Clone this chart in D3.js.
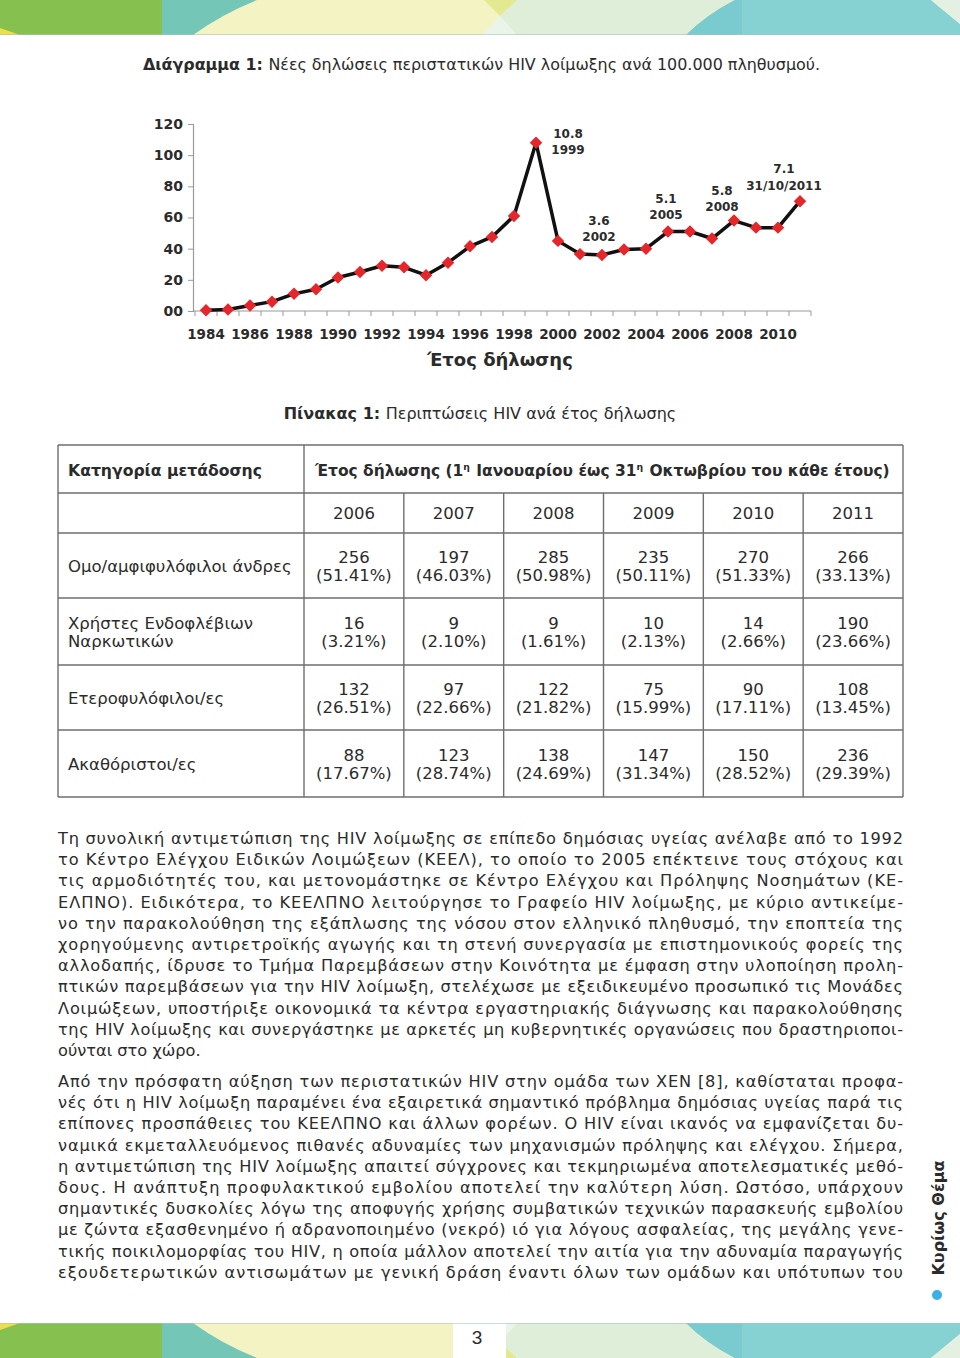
<!DOCTYPE html>
<html>
<head>
<meta charset="utf-8">
<script src="https://cdn.jsdelivr.net/npm/d3@7"></script>
<style>
  body { margin: 0; background: #fff; }
  svg { display: block; }
  text { font-family: "DejaVu Sans", Verdana, sans-serif; fill: #2b2b2b; }
</style>
</head>
<body>
<div class="page"></div>
<script>
// ---- chart data: new HIV reports, rate per 1.000.000 (axis of the figure) ----
const years = d3.range(1984, 2012)
const rates = [0.5, 1, 3.5, 6, 11, 14, 21.5, 25, 29, 28, 23, 31, 41.5, 47.5,
  61, 108, 45, 36.5, 36, 39.5, 40, 51, 51, 46.5, 58, 53.5, 53.5, 70.5]
const yTicks = [0, 20, 40, 60, 80, 100, 120]
const xTickYears = d3.range(1984, 2011, 2)
const notes = [
  { year: 1999, value: "10.8", label: "1999" },
  { year: 2002, value: "3.6", label: "2002" },
  { year: 2005, value: "5.1", label: "2005" },
  { year: 2008, value: "5.8", label: "2008" },
  { year: 2011, value: "7.1", label: "31/10/2011" }
]
// label offsets from their point (px)
const noteOffset = { 1999: [32, -5], 2002: [-3, -30], 2005: [-2, -29], 2008: [-12, -26], 2011: [-16, -28] }

// ---- table data ----
const tableYears = ["2006", "2007", "2008", "2009", "2010", "2011"]
const categories = [["Ομο/αμφιφυλόφιλοι άνδρες"], ["Χρήστες Ενδοφλέβιων", "Ναρκωτικών"],
  ["Ετεροφυλόφιλοι/ες"], ["Ακαθόριστοι/ες"]]
const counts = [
  [256, 197, 285, 235, 270, 266],
  [16, 9, 9, 10, 14, 190],
  [132, 97, 122, 75, 90, 108],
  [88, 123, 138, 147, 150, 236]
]
const shares = [
  ["51.41", "46.03", "50.98", "50.11", "51.33", "33.13"],
  ["3.21", "2.10", "1.61", "2.13", "2.66", "23.66"],
  ["26.51", "22.66", "21.82", "15.99", "17.11", "13.45"],
  ["17.67", "28.74", "24.69", "31.34", "28.52", "29.39"]
]
const headParts = [
  { t: "Έτος δήλωσης (1" }, { t: "η", sup: true }, { t: " Ιανουαρίου έως 31" },
  { t: "η", sup: true }, { t: " Οκτωβρίου του κάθε έτους)" }
]

// ---- body text (one entry per printed line) ----
const para1 = [
  "Τη συνολική αντιμετώπιση της HIV λοίμωξης σε επίπεδο δημόσιας υγείας ανέλαβε από το 1992",
  "το Κέντρο Ελέγχου Ειδικών Λοιμώξεων (ΚΕΕΛ), το οποίο το 2005 επέκτεινε τους στόχους και",
  "τις αρμοδιότητές του, και μετονομάστηκε σε Κέντρο Ελέγχου και Πρόληψης Νοσημάτων (ΚΕ-",
  "ΕΛΠΝΟ). Ειδικότερα, το ΚΕΕΛΠΝΟ λειτούργησε το Γραφείο HIV λοίμωξης, με κύριο αντικείμε-",
  "νο την παρακολούθηση της εξάπλωσης της νόσου στον ελληνικό πληθυσμό, την εποπτεία της",
  "χορηγούμενης αντιρετροϊκής αγωγής και τη στενή συνεργασία με επιστημονικούς φορείς της",
  "αλλοδαπής, ίδρυσε το Τμήμα Παρεμβάσεων στην Κοινότητα με έμφαση στην υλοποίηση προλη-",
  "πτικών παρεμβάσεων για την HIV λοίμωξη, στελέχωσε με εξειδικευμένο προσωπικό τις Μονάδες",
  "Λοιμώξεων, υποστήριξε οικονομικά τα κέντρα εργαστηριακής διάγνωσης και παρακολούθησης",
  "της HIV λοίμωξης και συνεργάστηκε με αρκετές μη κυβερνητικές οργανώσεις που δραστηριοποι-",
  "ούνται στο χώρο."
]
const para2 = [
  "Από την πρόσφατη αύξηση των περιστατικών HIV στην ομάδα των ΧΕΝ [8], καθίσταται προφα-",
  "νές ότι η HIV λοίμωξη παραμένει ένα εξαιρετικά σημαντικό πρόβλημα δημόσιας υγείας παρά τις",
  "επίπονες προσπάθειες του ΚΕΕΛΠΝΟ και άλλων φορέων. Ο HIV είναι ικανός να εμφανίζεται δυ-",
  "ναμικά εκμεταλλευόμενος πιθανές αδυναμίες των μηχανισμών πρόληψης και ελέγχου. Σήμερα,",
  "η αντιμετώπιση της HIV λοίμωξης απαιτεί σύγχρονες και τεκμηριωμένα αποτελεσματικές μεθό-",
  "δους. Η ανάπτυξη προφυλακτικού εμβολίου αποτελεί την καλύτερη λύση. Ωστόσο, υπάρχουν",
  "σημαντικές δυσκολίες λόγω της αποφυγής χρήσης συμβατικών τεχνικών παρασκευής εμβολίου",
  "με ζώντα εξασθενημένο ή αδρανοποιημένο (νεκρό) ιό για λόγους ασφαλείας, της μεγάλης γενε-",
  "τικής ποικιλομορφίας του HIV, η οποία μάλλον αποτελεί την αιτία για την αδυναμία παραγωγής",
  "εξουδετερωτικών αντισωμάτων με γενική δράση έναντι όλων των ομάδων και υπότυπων του"
]

let width = 960, height = 1358
let svg = d3.select(".page").append("svg")
  .attr("width", width)
  .attr("height", height)

//decorative bands, top / bottom
function band(g, flip) {
  let h = 35
  g.append("rect").attr("width", 960).attr("height", h).attr("fill", "#f4f3c4")
  g.append("rect").attr("width", 162).attr("height", h).attr("fill", "#86c14f")
  g.append("path").attr("d", "M0,28 L20,35 L0,35 Z").attr("fill", "#ecdf4a")
  g.append("path").attr("d", "M162,0 L257,0 Q222,14 193,35 L162,35 Z").attr("fill", "#74c6b6")
  g.append("path").attr("d", "M484,0 L517,0 L500,16 Z").attr("fill", "#e4e88e")
  g.append("path").attr("d", "M517,0 L735,0 Q706,15 686,35 L517,35 L500,16 Z").attr("fill", "#dfeed8")
  g.append("path").attr("d", "M482,35 L500,16 L517,35 Z").attr("fill", "#eaf4e9")
  g.append("path").attr("d", "M735,0 L931,0 Q948,14 960,24 L960,35 L686,35 Q706,15 735,0 Z").attr("fill", "#86d1d1")
  g.append("path").attr("d", "M735,0 L742,0 L742,35 L686,35 Q706,15 735,0 Z").attr("fill", "#7acbd0")
  g.append("path").attr("d", "M931,0 L960,0 L960,24 Q948,14 931,0 Z").attr("fill", "#e4f1e2")
  if (flip) {
    g.attr("transform", `translate(0,${height}) scale(1,-1)`)
    g.append("rect").attr("x", 453).attr("width", 53).attr("height", h).attr("fill", "#fff")
  }
  g.append("rect").attr("y", h - 1).attr("width", 960).attr("height", 1).attr("fill", "#a9c4c0").attr("opacity", 0.6)
}
band(svg.append("g"), false)
band(svg.append("g"), true)

svg.append("text").attr("x", 477).attr("y", 1344)
  .attr("text-anchor", "middle")
  .style("font-family", "'Liberation Sans Narrow', 'Liberation Sans', sans-serif")
  .attr("font-size", 19).text("3")

//side label
svg.append("text")
  .attr("transform", "translate(944,1218) rotate(-90)")
  .attr("text-anchor", "middle")
  .attr("font-size", 16).attr("font-weight", "bold")
  .text("Κυρίως Θέμα")
svg.append("circle").attr("cx", 937).attr("cy", 1295).attr("r", 5).attr("fill", "#3cb0e6")

// ---- chart title ----
let title = svg.append("text").attr("x", 143).attr("y", 70)
  .attr("font-size", 16).attr("textLength", 677).attr("lengthAdjust", "spacingAndGlyphs")
title.append("tspan").attr("font-weight", "bold").text("Διάγραμμα 1: ")
title.append("tspan").text("Νέες δηλώσεις περιστατικών HIV λοίμωξης ανά 100.000 πληθυσμού.")

// ---- line chart ----
let x = d3.scaleBand().domain(years).range([195, 811]).padding(0)
let y = d3.scaleLinear().domain([0, 120]).range([311, 124])
let cx = (yr) => x(yr) + x.bandwidth() / 2

let chart = svg.append("g")
let yAxis = chart.append("g").attr("transform", "translate(193,0)")
  .call(d3.axisLeft(y).tickValues(yTicks).tickSize(5).tickPadding(5)
    .tickFormat((d) => d === 0 ? "00" : d))
yAxis.select(".domain").attr("stroke", "#9a9a9a").attr("stroke-width", 1.2)
yAxis.selectAll(".tick line").attr("stroke", "#9a9a9a")
yAxis.selectAll(".tick text").attr("font-size", 14).attr("font-weight", "bold")
  .attr("fill", "#333").style("font-family", "'DejaVu Sans', sans-serif")

let xAxis = chart.append("g").attr("transform", "translate(0,311)")
xAxis.append("line").attr("x1", 193).attr("x2", 811).attr("stroke", "#9a9a9a").attr("stroke-width", 1.2)
xAxis.selectAll(".xt").data(years.concat([2012])).enter().append("line")
  .attr("x1", (d) => d === 2012 ? x(2011) + x.bandwidth() : x(d))
  .attr("x2", (d) => d === 2012 ? x(2011) + x.bandwidth() : x(d))
  .attr("y1", 0).attr("y2", 5).attr("stroke", "#9a9a9a")
xAxis.selectAll(".xl").data(xTickYears).enter().append("text")
  .attr("x", (d) => cx(d)).attr("y", 28)
  .attr("text-anchor", "middle").attr("font-size", 13.5).attr("font-weight", "bold")
  .attr("fill", "#333").text((d) => d)
chart.append("text").attr("x", 500).attr("y", 366).attr("text-anchor", "middle")
  .attr("font-size", 18).attr("font-weight", "bold").attr("fill", "#333")
  .text("Έτος δήλωσης")

let line = d3.line().x((d, i) => cx(years[i])).y((d) => y(d))
chart.append("path").datum(rates)
  .attr("d", line).attr("fill", "none")
  .attr("stroke", "#111").attr("stroke-width", 3.5).attr("stroke-linejoin", "round")
chart.append("g").selectAll("path").data(rates).enter().append("path")
  .attr("d", d3.symbol().type(d3.symbolSquare).size(78))
  .attr("transform", (d, i) => `translate(${cx(years[i])},${y(d)}) rotate(45)`)
  .attr("fill", "#e5262b")

let noteG = chart.append("g").selectAll("text").data(notes).enter().append("text")
  .attr("text-anchor", "middle").attr("font-size", 12).attr("font-weight", "bold").attr("fill", "#333")
  .attr("x", (d) => cx(d.year) + noteOffset[d.year][0])
  .attr("y", (d) => y(rates[years.indexOf(d.year)]) + noteOffset[d.year][1])
noteG.append("tspan").text((d) => d.value)
noteG.append("tspan").attr("x", (d) => cx(d.year) + noteOffset[d.year][0]).attr("dy", 16.5).text((d) => d.label)

// ---- table ----
let tTitle = svg.append("text").attr("x", 480).attr("y", 419).attr("text-anchor", "middle").attr("font-size", 16)
tTitle.append("tspan").attr("font-weight", "bold").text("Πίνακας 1: ")
tTitle.append("tspan").text("Περιπτώσεις HIV ανά έτος δήλωσης")

let rowEdges = [445, 493, 533, 598, 665, 730, 797]
let colX = d3.scaleBand().domain(tableYears).range([304, 903])
let table = svg.append("g")
let gridColor = "#6e6e6e"
rowEdges.forEach((ry) => {
  table.append("line").attr("x1", 58).attr("x2", 903).attr("y1", ry).attr("y2", ry)
    .attr("stroke", gridColor).attr("stroke-width", 1.4)
})
;[58, 903, 304].forEach((vx) => {
  table.append("line").attr("x1", vx).attr("x2", vx).attr("y1", 445).attr("y2", 797)
    .attr("stroke", gridColor).attr("stroke-width", 1.4)
})
tableYears.slice(1).forEach((yr) => {
  table.append("line").attr("x1", colX(yr)).attr("x2", colX(yr)).attr("y1", 493).attr("y2", 797)
    .attr("stroke", gridColor).attr("stroke-width", 1.4)
})
let fs = 16.5
table.append("text").attr("x", 68).attr("y", 476).attr("font-size", fs).attr("font-weight", "bold")
  .attr("textLength", 194).attr("lengthAdjust", "spacingAndGlyphs")
  .text("Κατηγορία μετάδοσης")

// header pieces laid out one after the other, scaled to fit 575px
let headG = table.append("g")
let headTexts = headG.selectAll("text").data(headParts).enter().append("text")
  .attr("font-weight", "bold")
  .style("white-space", "pre")
  .text((d) => d.t)
function layoutHead(size) {
  let cur = 315
  headTexts.each(function (d) {
    let s = d.sup ? size * 0.6 : size
    d3.select(this).attr("font-size", s).attr("x", cur).attr("y", d.sup ? 470 : 476)
    cur += this.getComputedTextLength() + (d.sup ? 1 : 0)
  })
  return cur - 315
}
let natural = layoutHead(fs)
layoutHead(fs * 575 / natural)

table.selectAll(".yr").data(tableYears).enter().append("text")
  .attr("x", (d) => colX(d) + colX.bandwidth() / 2).attr("y", 519)
  .attr("text-anchor", "middle").attr("font-size", fs).text((d) => d)

categories.forEach((cat, r) => {
  let mid = (rowEdges[r + 2] + rowEdges[r + 3]) / 2
  let t = table.append("text").attr("x", 68).attr("font-size", fs)
    .attr("y", mid + 6 - (cat.length - 1) * 9)
  cat.forEach((ln, k) => {
    t.append("tspan").attr("x", 68).attr("dy", k ? 18 : 0).text(ln)
  })
  tableYears.forEach((yr, c) => {
    let cxx = colX(yr) + colX.bandwidth() / 2
    let tt = table.append("text").attr("text-anchor", "middle").attr("font-size", fs)
      .attr("y", mid - 3)
    tt.append("tspan").attr("x", cxx).text(counts[r][c])
    tt.append("tspan").attr("x", cxx).attr("dy", 18).text(`(${shares[r][c]}%)`)
  })
})

// ---- body paragraphs ----
function para(lines, top, lastJustified) {
  svg.append("g").selectAll("text").data(lines).enter().append("text")
    .attr("x", 58).attr("y", (d, i) => top + i * 21.2)
    .attr("font-size", 16.2)
    .attr("textLength", (d, i) => (i < lines.length - 1 || lastJustified) ? 845 : null)
    .attr("lengthAdjust", "spacing")
    .text((d) => d)
}
para(para1, 844, false)
para(para2, 1087, true)
</script>
</body>
</html>
